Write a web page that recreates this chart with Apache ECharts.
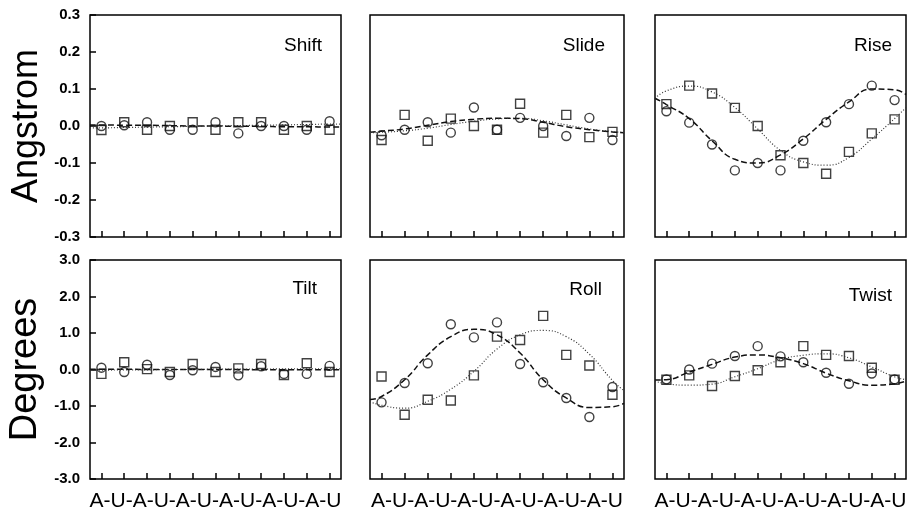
<!DOCTYPE html>
<html>
<head>
<meta charset="utf-8">
<title>Base-pair step parameters</title>
<script src="https://cdn.jsdelivr.net/npm/echarts@6/dist/echarts.min.js"></script>
<style>
  html, body { margin: 0; padding: 0; background: #fff; }
  #chart { width: 923px; height: 513px; }
</style>
</head>
<body>
<div id="chart"></div>
<script>
// positions of the 11 steps and of the fitted curve samples
var ticks = [1, 2, 3, 4, 5, 6, 7, 8, 9, 10, 11];
var curveX = [0.5, 1, 2, 3, 4, 5, 6, 7, 8, 9, 10, 11, 11.5];
var bases = ['A', 'U', 'A', 'U', 'A', 'U', 'A', 'U', 'A', 'U', 'A', 'U'];
var yTicksTop = [-0.3, -0.2, -0.1, 0.0, 0.1, 0.2, 0.3];
var yTicksBottom = [-3, -2, -1, 0, 1, 2, 3];

// Shift
var shiftCircle = [0.0, 0.002, 0.01, -0.01, -0.01, 0.01, -0.02, 0.0, 0.0, -0.01, 0.013];
var shiftSquare = [-0.011, 0.01, -0.01, 0.0, 0.01, -0.01, 0.01, 0.01, -0.01, 0.0, -0.01];
var shiftDash = [0.003, 0.003, 0.002, 0.002, 0.001, 0.0, 0.0, -0.001, -0.001, -0.002, -0.002, -0.003, -0.003];
var shiftDot = [-0.005, -0.005, -0.004, -0.003, -0.002, -0.001, 0.0, 0.001, 0.002, 0.003, 0.004, 0.005, 0.005];
// Slide
var slideCircle = [-0.025, -0.01, 0.01, -0.018, 0.05, -0.01, 0.022, 0.0, -0.027, 0.022, -0.038];
var slideSquare = [-0.038, 0.03, -0.04, 0.02, 0.0, -0.01, 0.06, -0.018, 0.03, -0.03, -0.016];
var slideDash = [-0.017, -0.014, -0.008, 0.002, 0.012, 0.018, 0.021, 0.02, 0.01, -0.002, -0.01, -0.016, -0.018];
var slideDot = [-0.018, -0.017, -0.013, -0.006, 0.004, 0.013, 0.019, 0.021, 0.014, 0.003, -0.008, -0.015, -0.018];
// Rise
var riseCircle = [0.04, 0.009, -0.05, -0.12, -0.1, -0.12, -0.04, 0.01, 0.059, 0.109, 0.07];
var riseSquare = [0.059, 0.109, 0.088, 0.049, 0.0, -0.079, -0.1, -0.129, -0.07, -0.02, 0.018];
var riseDash = [0.075, 0.058, 0.02, -0.04, -0.09, -0.1, -0.078, -0.035, 0.018, 0.065, 0.1, 0.098, 0.085];
var riseDot = [0.075, 0.095, 0.108, 0.092, 0.05, -0.008, -0.066, -0.097, -0.106, -0.085, -0.035, 0.02, 0.05];
// Tilt
var tiltCircle = [0.05, -0.07, 0.13, -0.15, -0.02, 0.07, -0.16, 0.09, -0.12, -0.12, 0.1];
var tiltSquare = [-0.12, 0.2, 0.01, -0.07, 0.15, -0.07, 0.03, 0.15, -0.15, 0.17, -0.07];
var tiltDash = [0.01, 0.01, 0.01, 0.0, 0.0, 0.0, 0.0, 0.0, -0.01, -0.01, -0.01, -0.01, -0.01];
var tiltDot = [-0.02, -0.02, -0.01, -0.01, 0.0, 0.0, 0.01, 0.01, 0.01, 0.02, 0.02, 0.02, 0.02];
// Roll
var rollCircle = [-0.9, -0.37, 0.17, 1.24, 0.88, 1.29, 0.15, -0.35, -0.78, -1.3, -0.48];
var rollSquare = [-0.19, -1.24, -0.83, -0.85, -0.16, 0.9, 0.81, 1.47, 0.4, 0.11, -0.69];
var rollDash = [-0.82, -0.74, -0.28, 0.4, 0.9, 1.1, 0.95, 0.45, -0.28, -0.78, -1.04, -1.02, -0.93];
var rollDot = [-0.88, -0.98, -1.06, -0.87, -0.54, -0.05, 0.56, 0.95, 1.07, 0.9, 0.42, -0.3, -0.58];
// Twist
var twistCircle = [-0.27, 0.0, 0.16, 0.37, 0.64, 0.36, 0.2, -0.09, -0.39, -0.11, -0.27];
var twistSquare = [-0.28, -0.16, -0.45, -0.18, -0.02, 0.2, 0.64, 0.4, 0.37, 0.05, -0.28];
var twistDash = [-0.29, -0.28, -0.07, 0.14, 0.34, 0.4, 0.32, 0.16, -0.1, -0.31, -0.43, -0.39, -0.32];
var twistDot = [-0.32, -0.39, -0.43, -0.4, -0.2, 0.02, 0.27, 0.39, 0.43, 0.32, 0.07, -0.2, -0.28];

var panels = [
  { title: 'Shift', circle: shiftCircle, square: shiftSquare, dash: shiftDash, dot: shiftDot },
  { title: 'Slide', circle: slideCircle, square: slideSquare, dash: slideDash, dot: slideDot },
  { title: 'Rise', circle: riseCircle, square: riseSquare, dash: riseDash, dot: riseDot },
  { title: 'Tilt', circle: tiltCircle, square: tiltSquare, dash: tiltDash, dot: tiltDot },
  { title: 'Roll', circle: rollCircle, square: rollSquare, dash: rollDash, dot: rollDot },
  { title: 'Twist', circle: twistCircle, square: twistSquare, dash: twistDash, dot: twistDot }
];

var font = 'Liberation Sans, Arial, Helvetica, sans-serif';
var colLeft = [90, 370, 655];
var colWidth = [251, 254, 251];
var rowTop = [15, 260];
var rowHeight = [222, 219];
var titlePos = [
  { right: 596, top: 31 }, { right: 313, top: 31 }, { right: 26, top: 31 },
  { right: 601, top: 274 }, { right: 316, top: 275 }, { right: 26, top: 281 }
];

var grids = [], xAxes = [], yAxes = [], titles = [], series = [];

panels.forEach(function (p, i) {
  var col = i % 3, row = Math.floor(i / 3);
  grids.push({
    left: colLeft[col], top: rowTop[row], width: colWidth[col], height: rowHeight[row],
    show: true, borderColor: '#000', borderWidth: 1.5, backgroundColor: 'transparent'
  });
  xAxes.push({
    gridIndex: i, type: 'value', min: 0.5, max: 11.5,
    axisLine: { show: false, onZero: false },
    axisTick: { show: true, inside: true, length: 6, customValues: ticks, lineStyle: { color: '#000', width: 1.5 } },
    axisLabel: { show: false },
    splitLine: { show: false },
    name: row === 1 ? bases.join('-') : '',
    nameLocation: 'middle', nameGap: 12,
    nameTextStyle: { fontFamily: font, fontSize: 21, color: '#000' }
  });
  var yt = row === 0 ? yTicksTop : yTicksBottom;
  yAxes.push({
    gridIndex: i, type: 'value', min: yt[0], max: yt[yt.length - 1],
    axisLine: { show: false, onZero: false },
    axisTick: { show: col === 0, inside: true, length: 6, customValues: yt, lineStyle: { color: '#000', width: 1.5 } },
    axisLabel: {
      show: col === 0, customValues: yt, margin: 10,
      fontFamily: font, fontSize: 15, fontWeight: 'bold', color: '#000',
      formatter: function (v) { return (Math.abs(v) < 1e-9 ? 0 : v).toFixed(1); }
    },
    splitLine: { show: false },
    name: col === 0 ? (row === 0 ? 'Angstrom' : 'Degrees') : '',
    nameLocation: 'middle', nameRotate: 90, nameGap: 45,
    nameTextStyle: { fontFamily: font, fontSize: row === 0 ? 36 : 38, color: '#000' }
  });
  titles.push({
    text: p.title, right: titlePos[i].right, top: titlePos[i].top,
    textStyle: { fontFamily: font, fontSize: 19, fontWeight: 'normal', color: '#000' }
  });
  series.push({
    type: 'line', xAxisIndex: i, yAxisIndex: i, smooth: true, showSymbol: false, silent: true,
    data: curveX.map(function (x, j) { return [x, p.dash[j]]; }),
    lineStyle: { color: '#111', width: 1.5, type: [6, 3] }
  });
  series.push({
    type: 'line', xAxisIndex: i, yAxisIndex: i, smooth: true, showSymbol: false, silent: true,
    data: curveX.map(function (x, j) { return [x, p.dot[j]]; }),
    lineStyle: { color: '#333', width: 1.2, type: [1, 2] }
  });
  series.push({
    type: 'scatter', xAxisIndex: i, yAxisIndex: i, symbol: 'circle', symbolSize: 9,
    data: ticks.map(function (x, j) { return [x, p.circle[j]]; }),
    itemStyle: { color: 'rgba(0,0,0,0)', borderColor: '#111', borderWidth: 1.4 }
  });
  series.push({
    type: 'scatter', xAxisIndex: i, yAxisIndex: i, symbol: 'rect', symbolSize: 9,
    data: ticks.map(function (x, j) { return [x, p.square[j]]; }),
    itemStyle: { color: 'rgba(0,0,0,0)', borderColor: '#111', borderWidth: 1.4 }
  });
});

var chart = echarts.init(document.getElementById('chart'));
chart.setOption({
  animation: false,
  backgroundColor: '#fff',
  title: titles,
  grid: grids,
  xAxis: xAxes,
  yAxis: yAxes,
  series: series
});
</script>
</body>
</html>
